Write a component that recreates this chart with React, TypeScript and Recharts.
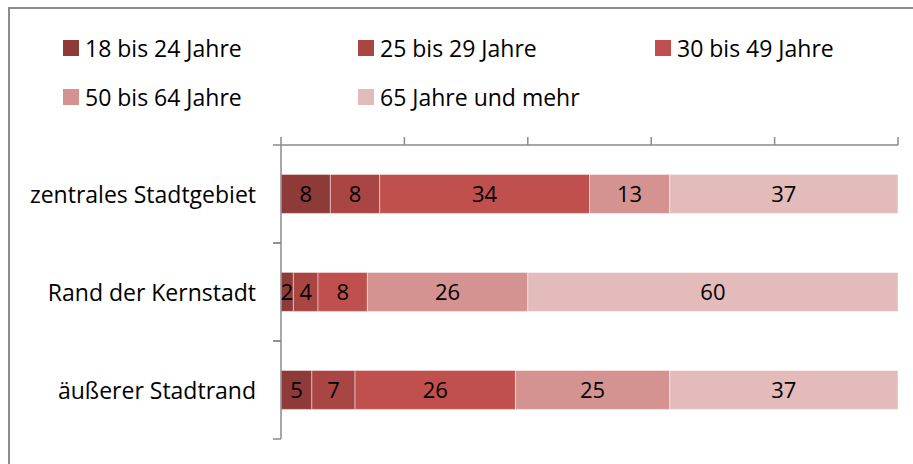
import React from 'react';
import { BarChart, Bar, XAxis, YAxis, Legend, LabelList } from 'recharts';

const categories = ['zentrales Stadtgebiet', 'Rand der Kernstadt', 'äußerer Stadtrand'];
const seriesNames = ['18 bis 24 Jahre', '25 bis 29 Jahre', '30 bis 49 Jahre', '50 bis 64 Jahre', '65 Jahre und mehr'];
const age18to24 = [8, 2, 5];
const age25to29 = [8, 4, 7];
const age30to49 = [34, 8, 26];
const age50to64 = [13, 26, 25];
const age65plus = [37, 60, 37];
const xTicks = [0, 20, 40, 60, 80, 100];

const seriesKeys = ['a', 'b', 'c', 'd', 'e'];
const colors = ['#8E3A39', '#A94644', '#C0504D', '#D49391', '#E2BBBA'];
const seriesValues = [age18to24, age25to29, age30to49, age50to64, age65plus];

const data = categories.map((name, i) => {
  const row: any = { name };
  seriesKeys.forEach((k, j) => {
    row[k] = seriesValues[j][i];
  });
  return row;
});

const FONT = '"Open Sans", sans-serif';
const AXIS = '#8a8a8a';
const W = 913;
const H = 464;
const MARGIN = { top: 135, right: 15, bottom: 25, left: 0 };
const X_AXIS_H = 10;
const Y_AXIS_W = 281;
const plotTop = MARGIN.top + X_AXIS_H;
const plotBottom = H - MARGIN.bottom;
const bandHalf = (plotBottom - plotTop) / categories.length / 2;

const CatTick = (props: any) => {
  const { x, y, payload } = props;
  return (
    <g>
      <text x={x - 25} y={y} textAnchor="end" dominantBaseline="central" fontFamily={FONT} fontSize={23} fill="#000">
        {payload.value}
      </text>
      <line x1={x - 8} x2={x} y1={y - bandHalf} y2={y - bandHalf} stroke={AXIS} strokeWidth={1.5} />
      <line x1={x - 8} x2={x} y1={y + bandHalf} y2={y + bandHalf} stroke={AXIS} strokeWidth={1.5} />
    </g>
  );
};

const EmptyTick = () => <g />;

const legendCols = [63, 358, 655];
const legendRows = [48, 97];

const LegendContent = () => (
  <div style={{ position: 'relative', width: W, height: 120 }}>
    {seriesNames.map((n, i) => {
      const col = i % 3;
      const row = Math.floor(i / 3);
      return (
        <div
          key={n}
          style={{
            position: 'absolute',
            left: legendCols[col],
            top: legendRows[row] - 16,
            height: 32,
            display: 'flex',
            alignItems: 'center',
            fontFamily: FONT,
            fontSize: 23,
            color: '#000',
            whiteSpace: 'nowrap',
          }}
        >
          <span style={{ display: 'inline-block', width: 16, height: 16, background: colors[i], marginRight: 6 }} />
          <span>{n}</span>
        </div>
      );
    })}
  </div>
);

export default function App() {
  return (
    <div style={{ position: 'absolute', left: 0, top: 0, width: W, height: H, overflow: 'hidden', background: '#fff' }}>
      <div
        style={{
          position: 'absolute',
          left: 8,
          top: 7,
          width: 1200,
          height: 1000,
          border: '2px solid #8c8c8c',
          boxSizing: 'border-box',
        }}
      />
      <div style={{ position: 'absolute', left: 0, top: 0 }}>
        <BarChart
          width={W}
          height={H}
          data={data}
          layout="vertical"
          margin={MARGIN}
          barCategoryGap="30%"
        >
          <XAxis
            type="number"
            orientation="top"
            domain={[0, 100]}
            ticks={xTicks}
            tick={<EmptyTick />}
            tickSize={8}
            height={X_AXIS_H}
            axisLine={{ stroke: AXIS, strokeWidth: 1.5 }}
            tickLine={{ stroke: AXIS, strokeWidth: 1.5 }}
            allowDataOverflow
          />
          <YAxis
            type="category"
            dataKey="name"
            width={Y_AXIS_W}
            tickSize={0}
            tickMargin={0}
            tickLine={false}
            axisLine={{ stroke: AXIS, strokeWidth: 1.5 }}
            tick={<CatTick />}
            interval={0}
          />
          <Legend
            layout="horizontal"
            verticalAlign="middle"
            align="center"
            wrapperStyle={{ position: 'absolute', left: 0, top: 0, width: W }}
            content={<LegendContent />}
          />
          {seriesKeys.map((k, i) => (
            <Bar
              key={k}
              dataKey={k}
              name={seriesNames[i]}
              stackId="s"
              fill={colors[i]}
              stroke="rgba(255,255,255,0.45)"
              strokeWidth={1}
              isAnimationActive={false}
            >
              <LabelList dataKey={k} position="center" fill="#000" fontFamily={FONT} fontSize={22} />
            </Bar>
          ))}
        </BarChart>
      </div>
    </div>
  );
}
